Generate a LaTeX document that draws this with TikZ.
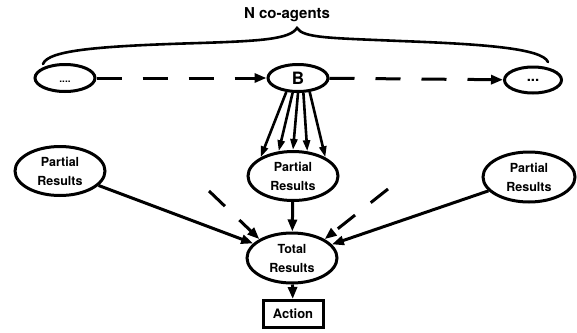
\documentclass[tikz,border=0pt]{standalone}
\usepackage{fontspec}
\setmainfont{TeX Gyre Heros}
\usetikzlibrary{arrows.meta,shapes.geometric}
\begin{document}
\begin{tikzpicture}[x=1pt,y=-1pt,
  agent/.style={ellipse,draw,line width=3pt,minimum width=60pt,minimum height=27pt,inner sep=0pt,font=\bfseries},
  result/.style={ellipse,draw,line width=3pt,minimum width=90pt,minimum height=49pt,inner sep=0pt,
                 align=center,font=\fontsize{12.5}{19}\selectfont\bfseries},
  actbox/.style={rectangle,draw,line width=3pt,minimum width=60pt,minimum height=27pt,inner sep=0pt,
                 font=\fontsize{13}{14}\selectfont\bfseries},
  flow/.style={line width=3pt,-{Triangle[length=12pt,width=9pt]}},
  fan/.style={line width=2.6pt,-{Triangle[length=11pt,width=7pt]}},
  pass/.style={flow,dash pattern=on 25pt off 21pt},
  hint/.style={flow,dash pattern=on 22pt off 20pt}]
\useasboundingbox (0,0) rectangle (577,332);

% heading and the brace over the row of co-agents
\node[font=\fontsize{15}{18}\selectfont\bfseries] (title) at (287,15) {N co-agents};
\draw[line width=2.6pt,line cap=round]
  (43,64) .. controls (48,50) and (100,46) .. (200,43)
          .. controls (262,41) and (290,39) .. (297,28)
          .. controls (303,38) and (330,38) .. (400,41)
          .. controls (480,44) and (542,48) .. (548,62);

% row of co-agents
\node[agent] (left) at (65,78) {\raisebox{-9pt}{\fontsize{10}{10}\selectfont ....}};
\node[agent] (b) at (298,78) {\raisebox{-4pt}{\fontsize{17}{17}\selectfont B}};
\node[agent,minimum width=57pt,minimum height=26pt] (right) at (533,80) {\fontsize{15}{15}\selectfont ...};

\draw[pass] (left) -- (b);
\draw[pass] (b) -- (right);

% partial and total results
\node[result] (lpr) at (60,171) {Partial\\Results};
\node[result] (mpr) at (293,176) {Partial\\Results};
\node[result,minimum width=92pt,minimum height=50pt] (rpr) at (529,177) {Partial\\Results};
\node[result,minimum height=50pt] (tot) at (292,258) {Total\\Results};
\node[actbox] (act) at (293,314) {Action};

% B hands its share to its partial results
\draw[fan] (b.-130) -- (mpr.150);
\draw[fan] (b.-110) -- (mpr.120);
\draw[fan] (b.-90)  -- (mpr.90);
\draw[fan] (b.-70)  -- (mpr.60);
\draw[fan] (b.-50)  -- (mpr.30);

% combining the partial results
\draw[flow] (lpr) -- (tot);
\draw[flow] (rpr) -- (tot);
\draw[flow] (mpr) -- (tot);
\coordinate (ul) at (209,191);
\coordinate (ur) at (388,189);
\draw[hint] (ul) -- (tot.150);
\draw[hint] (ur) -- (tot.30);
\draw[flow] (tot) -- (act);
\end{tikzpicture}
\end{document}
